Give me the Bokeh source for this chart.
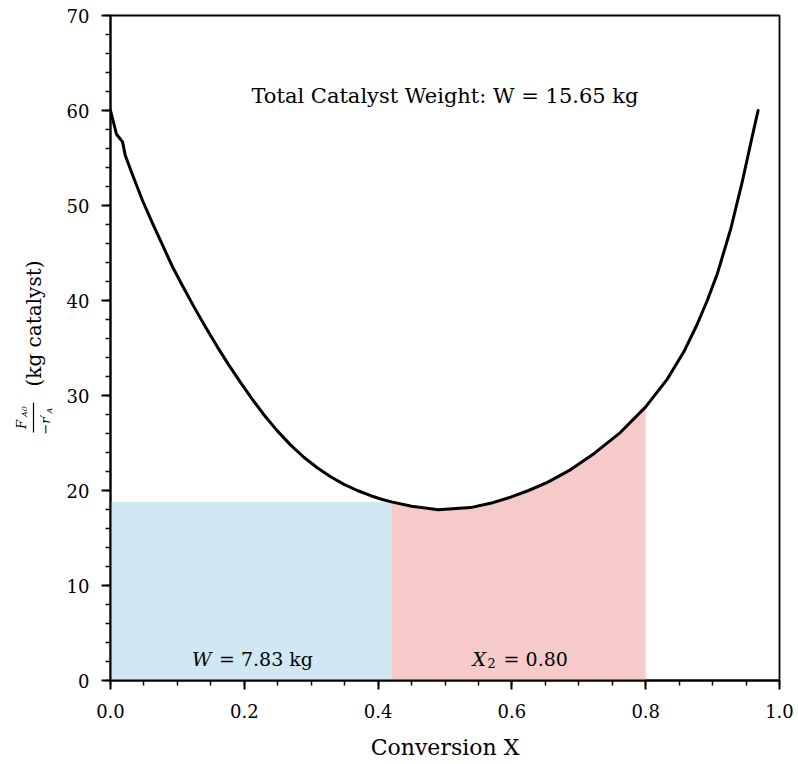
import numpy as np
from bokeh.plotting import figure
from bokeh.layouts import row
from bokeh.models import Range1d, SingleIntervalTicker, CustomJSTickFormatter
from bokeh.core.properties import value
from bokeh.embed import file_html
from bokeh.resources import INLINE

# ---- data ----
conversion = [0.0, 0.009, 0.018, 0.022, 0.033, 0.048, 0.063, 0.078, 0.093, 0.108,
              0.125, 0.142, 0.159, 0.176, 0.194, 0.211, 0.229, 0.249, 0.269, 0.289,
              0.309, 0.329, 0.349, 0.369, 0.389, 0.405, 0.42, 0.45, 0.49, 0.538,
              0.568, 0.598, 0.625, 0.653, 0.688, 0.723, 0.762, 0.80, 0.832, 0.857,
              0.877, 0.892, 0.907, 0.927, 0.944, 0.959, 0.968]
fa0_over_ra = [60.0, 57.5, 56.7, 55.3, 53.2, 50.5, 48.1, 45.8, 43.5, 41.5,
               39.3, 37.2, 35.2, 33.3, 31.4, 29.7, 28.0, 26.3, 24.8, 23.5,
               22.4, 21.45, 20.65, 20.0, 19.45, 19.08, 18.8, 18.35, 17.98, 18.2,
               18.65, 19.3, 20.0, 20.85, 22.2, 23.9, 26.1, 28.8, 31.7, 34.6,
               37.5, 40.0, 42.8, 47.5, 52.4, 57.2, 60.0]
x_split = 0.42
x_final = 0.80
title_text = "Total Catalyst Weight: W = 15.65 kg"
w1_symbol = "W"
w1_text = "= 7.83 kg"
x2_symbol = "X"
x2_sub = "2"
x2_text = "= 0.80"
x_label = "Conversion X"
y_label_units = "(kg catalyst)"
y_num, y_num_sub = "F", "A0"
y_den, y_den_sub = "\u2212r\u2032", "A"

FONT = "DejaVu Serif"
W_TOTAL, H_TOTAL = 798, 764
LAB_W = 60
B_TOP, B_BOTTOM = 15, 84

p = figure(width=W_TOTAL - LAB_W, height=H_TOTAL, output_backend="svg",
           toolbar_location=None, x_range=Range1d(0, 1), y_range=Range1d(0, 70),
           min_border_left=110 - LAB_W, min_border_right=19, min_border_top=B_TOP,
           min_border_bottom=B_BOTTOM)
p.grid.visible = False
p.outline_line_color = "black"
p.outline_line_width = 1.8

# shaded areas
cx = np.array(conversion)
cy = np.array(fa0_over_ra)
y_split = float(np.interp(x_split, cx, cy))
p.quad(left=[0], right=[x_split], bottom=[0], top=[y_split],
       fill_color="#cfe8f3", line_color=None)
mask = (cx > x_split) & (cx < x_final)
rx = np.concatenate([[x_split], cx[mask], [x_final]])
ry = np.concatenate([[y_split], cy[mask], [np.interp(x_final, cx, cy)]])
p.varea(x=rx, y1=np.zeros_like(rx), y2=ry, fill_color="#f7caca")

p.line(conversion, fa0_over_ra, line_width=3, line_color="black",
       line_join="round", line_cap="round")

# axes
p.xaxis.ticker = SingleIntervalTicker(interval=0.2, num_minor_ticks=4)
p.yaxis.ticker = SingleIntervalTicker(interval=10, num_minor_ticks=5)
for ax in (p.xaxis[0], p.yaxis[0]):
    ax.axis_line_width = 2
    ax.major_tick_line_width = 2
    ax.minor_tick_line_width = 1.5
    ax.major_tick_out = 9
    ax.major_tick_in = 0
    ax.minor_tick_out = 5
    ax.minor_tick_in = 0
    ax.major_label_text_font = FONT
    ax.major_label_text_font_size = "18px"
    ax.major_label_text_color = "black"
p.xaxis.major_label_standoff = 14
p.yaxis.major_label_standoff = 12
p.xaxis.axis_label = x_label
p.xaxis.axis_label_text_font = FONT
p.xaxis.axis_label_text_font_size = "22px"
p.xaxis.axis_label_text_font_style = "normal"
p.xaxis.axis_label_text_color = "black"
p.xaxis.axis_label_standoff = 14
p.yaxis.axis_label = None
p.xaxis.formatter = CustomJSTickFormatter(code="return tick.toFixed(1);")

# annotations in data space
def txt(x, y, t, size, style="normal", align="center", xo=0, yo=0):
    p.text(x=[x], y=[y], text=[t], text_font=value(FONT), text_font_style=style,
           text_font_size=size, text_align=align, text_baseline="middle",
           text_color="black", x_offset=xo, y_offset=yo)

txt(0.5, 61.5, title_text, "21px")
txt(x_split / 2, 2.3, w1_symbol, "19px", "italic", "left", -59)
txt(x_split / 2, 2.3, w1_text, "19px", "normal", "left", -32)
xm = (x_split + x_final) / 2
txt(xm, 2.3, x2_symbol, "19px", "italic", "left", -46)
txt(xm, 2.3, x2_sub, "13px", "normal", "left", -31, 4)
txt(xm, 2.3, x2_text, "19px", "normal", "left", -15)

# y-axis label figure: data units are pixels, y measured from the canvas bottom
lab = figure(width=LAB_W, height=H_TOTAL, output_backend="svg",
             toolbar_location=None, x_range=Range1d(0, LAB_W),
             y_range=Range1d(B_BOTTOM, H_TOTAL - B_TOP),
             x_axis_type=None, y_axis_type=None,
             min_border_left=0, min_border_right=0,
             min_border_top=B_TOP, min_border_bottom=B_BOTTOM)
lab.grid.visible = False
lab.outline_line_color = None

def ylab(x, y, t, size, style="normal"):
    lab.text(x=[x], y=[H_TOTAL - y], text=[t], angle=np.pi / 2,
             text_font=value(FONT), text_font_size=size, text_font_style=style,
             text_align="center", text_baseline="middle", text_color="black")

ylab(33, 323, y_label_units, "20px")
ylab(21, 424, y_num, "13px", "italic")
ylab(24, 411, y_num_sub, "8px", "italic")
ylab(45, 424, y_den, "13px", "italic")
ylab(49, 410, y_den_sub, "8px", "italic")
lab.segment(x0=[33], y0=[H_TOTAL - 432], x1=[33], y1=[H_TOTAL - 402],
            line_color="black", line_width=1.2)

layout = row(lab, p, spacing=0)
open("out.html", "w").write(file_html(layout, INLINE))
